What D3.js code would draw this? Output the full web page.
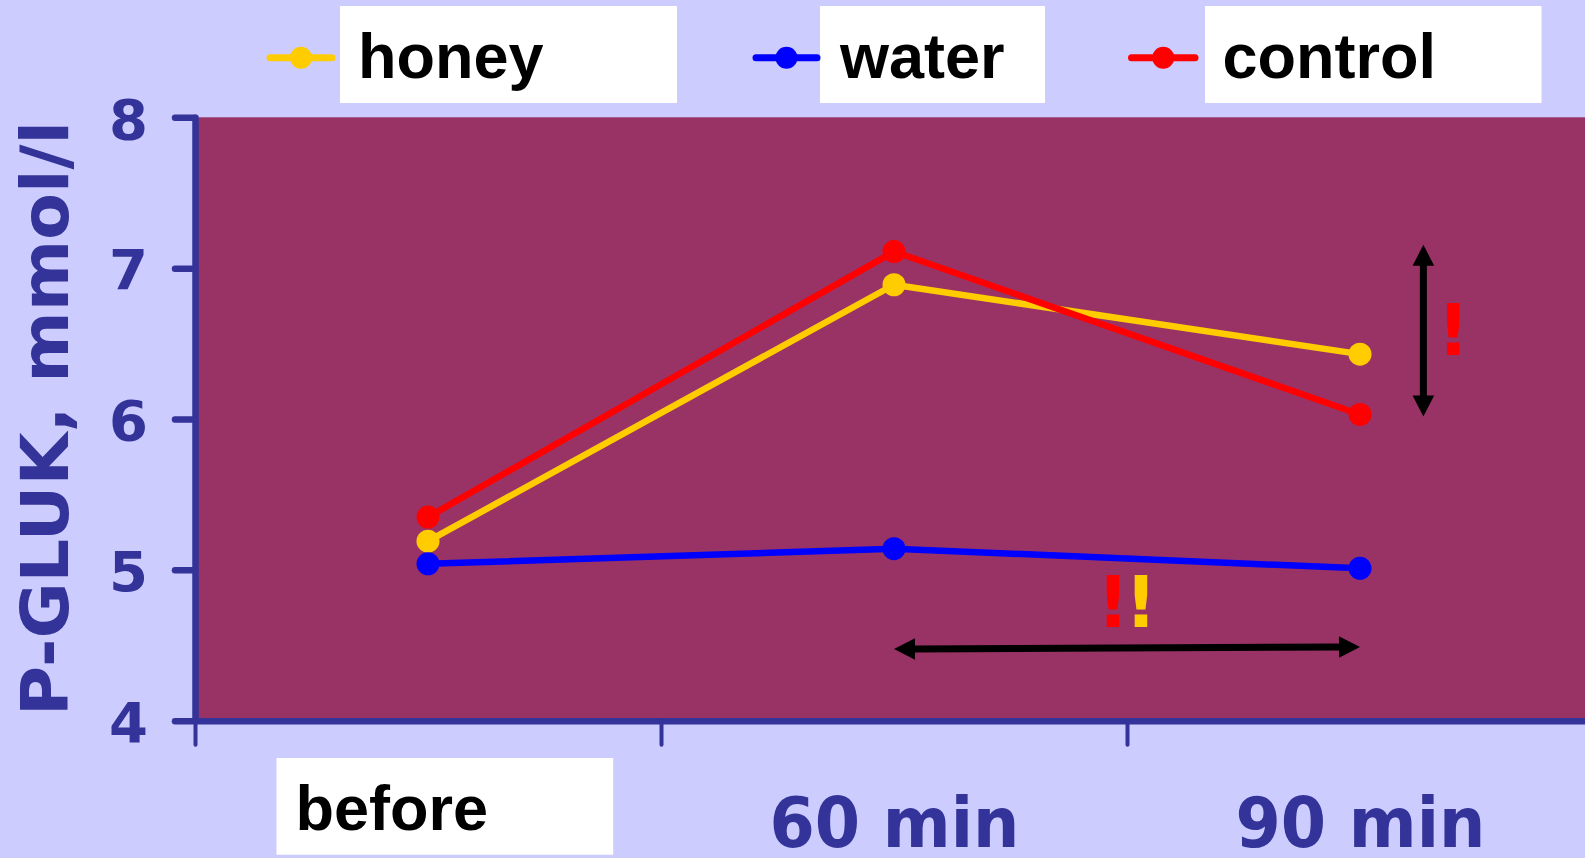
<!DOCTYPE html>
<html>
<head>
<meta charset="utf-8">
<script src="https://cdn.jsdelivr.net/npm/d3@7"></script>
<style>
  html, body { margin: 0; padding: 0; background: #CCCCFF; overflow: hidden; }
  svg { display: block; }
</style>
</head>
<body>
<svg id="chart" width="1585" height="858"></svg>
<script>
// Blood glucose after honey, water and control intake
const categories = ["before", "60 min", "90 min"];
const honey = [5.19, 6.89, 6.43];
const water = [5.04, 5.14, 5.01];
const control = [5.35, 7.11, 6.03];
const seriesNames = ["honey", "water", "control"];
const seriesColors = ["#FFCC00", "#0000FF", "#FF0000"];
const yTicks = [4, 5, 6, 7, 8];
const yLabel = "P-GLUK, mmol/l";

// Annotations: arrows (category index, value) and exclamation marks
const hArrow = [[1.0, 4.475], [2.0, 4.489]];
const vArrow = [[2.136, 7.155], [2.136, 6.017]];
const marks = [
  { text: "!", i: 2.2, v: 6.424, color: "#FF0000" },
  { text: "!", i: 1.47, v: 4.621, color: "#FF0000" },
  { text: "!", i: 1.53, v: 4.621, color: "#FFCC00" }
];

const AXIS = "#333399";
const PLOT_BG = "#993366";
const series = [honey, water, control];

const svg = d3.select("#chart");

// Categories sit at band centres; boundaries at half-indices
const xi = d3.scaleLinear().domain([-0.5, 2.5]).range([195, 1593]);
const y = d3.scaleLinear().domain([4, 8]).range([720.7, 117.3]);

// Plot background
svg.append("rect")
  .attr("x", xi(-0.5)).attr("y", y(8))
  .attr("width", xi(2.5) - xi(-0.5)).attr("height", y(4) - y(8))
  .attr("fill", PLOT_BG);

// Y axis
const yAxis = svg.append("g")
  .attr("transform", `translate(${xi(-0.5)},0)`)
  .call(d3.axisLeft(y).tickValues(yTicks).tickSize(20).tickSizeOuter(0).tickPadding(27).tickFormat(d3.format("d")));
yAxis.select(".domain").attr("stroke", AXIS).attr("stroke-width", 6.5).attr("stroke-linecap", "round");
yAxis.selectAll(".tick line").attr("stroke", AXIS).attr("stroke-width", 6.5).attr("stroke-linecap", "round");
yAxis.selectAll(".tick text")
  .attr("fill", AXIS)
  .attr("font-family", "DejaVu Sans")
  .attr("font-weight", "bold")
  .attr("font-size", 56)
  .attr("dy", "0.37em");

// X axis line and boundary ticks
const xAxis = svg.append("g")
  .attr("transform", `translate(0,${y(4)})`)
  .call(d3.axisBottom(xi).tickValues([-0.5, 0.5, 1.5]).tickSize(24).tickSizeOuter(0).tickFormat(""));
xAxis.select(".domain").attr("stroke", AXIS).attr("stroke-width", 6.5);
xAxis.selectAll(".tick line").attr("stroke", AXIS).attr("stroke-width", 4).attr("stroke-linecap", "round");

// Category labels
const xPoint = d3.scalePoint().domain(categories).range([xi(0), xi(2)]);
const xLabels = svg.append("g")
  .attr("transform", `translate(0,${y(4)})`)
  .call(d3.axisBottom(xPoint).tickSize(0));
xLabels.select(".domain").remove();
xLabels.selectAll(".tick").each(function (d, i) {
  const g = d3.select(this);
  const t = g.select("text");
  if (i === 0) {
    g.insert("rect", "text")
      .attr("x", -152).attr("y", 37.3)
      .attr("width", 336.7).attr("height", 96.7)
      .attr("fill", "#FFFFFF");
    t.attr("fill", "#000000")
      .attr("font-family", "Liberation Sans, Arial, sans-serif")
      .attr("font-weight", "bold")
      .attr("font-size", 63)
      .attr("text-anchor", "start")
      .attr("x", -133).attr("y", 109.3).attr("dy", 0);
  } else {
    t.attr("fill", AXIS)
      .attr("font-family", "DejaVu Sans")
      .attr("font-weight", "bold")
      .attr("font-size", 70)
      .attr("text-anchor", "middle")
      .attr("y", 126).attr("dy", 0)
      .attr("textLength", 250)
      .attr("lengthAdjust", "spacingAndGlyphs");
  }
});

// Y axis title
svg.append("text")
  .attr("transform", `translate(68.3,418.5) rotate(-90)`)
  .attr("text-anchor", "middle")
  .attr("fill", AXIS)
  .attr("font-family", "DejaVu Sans")
  .attr("font-weight", "bold")
  .attr("font-size", 66)
  .attr("textLength", 595)
  .attr("lengthAdjust", "spacingAndGlyphs")
  .text(yLabel);

// Series lines and markers
const line = d3.line().x((d, i) => xi(i)).y(d => y(d));
const seriesG = svg.append("g");
series.forEach((vals, s) => {
  seriesG.append("path")
    .datum(vals)
    .attr("d", line)
    .attr("fill", "none")
    .attr("stroke", seriesColors[s])
    .attr("stroke-width", 6.5)
    .attr("stroke-linejoin", "round");
});
series.forEach((vals, s) => {
  seriesG.selectAll(null)
    .data(vals)
    .join("circle")
    .attr("cx", (d, i) => xi(i))
    .attr("cy", d => y(d))
    .attr("r", 11.5)
    .attr("fill", seriesColors[s]);
});

// Double-headed arrows
function doubleArrow(p0, p1) {
  const x0 = xi(p0[0]), y0 = y(p0[1]), x1 = xi(p1[0]), y1 = y(p1[1]);
  const len = Math.hypot(x1 - x0, y1 - y0);
  const ux = (x1 - x0) / len, uy = (y1 - y0) / len;
  const head = 21, half = 10.8;
  const g = svg.append("g");
  g.append("line")
    .attr("x1", x0 + ux * (head - 1)).attr("y1", y0 + uy * (head - 1))
    .attr("x2", x1 - ux * (head - 1)).attr("y2", y1 - uy * (head - 1))
    .attr("stroke", "#000").attr("stroke-width", 7);
  const tri = (tx, ty, dx, dy) => {
    const bx = tx - dx * head, by = ty - dy * head;
    return `M${tx},${ty}L${bx - dy * half},${by + dx * half}L${bx + dy * half},${by - dx * half}Z`;
  };
  g.append("path").attr("d", tri(x1, y1, ux, uy)).attr("fill", "#000");
  g.append("path").attr("d", tri(x0, y0, -ux, -uy)).attr("fill", "#000");
}
doubleArrow(hArrow[0], hArrow[1]);
doubleArrow(vArrow[0], vArrow[1]);

// Exclamation marks
svg.append("g").selectAll("text")
  .data(marks)
  .join("text")
  .attr("x", d => xi(d.i))
  .attr("y", d => y(d.v))
  .attr("text-anchor", "middle")
  .attr("fill", d => d.color)
  .attr("font-family", "DejaVu Sans")
  .attr("font-weight", "bold")
  .attr("font-size", 71)
  .text(d => d.text);

// Legend
const legendBoxes = [
  { x: 340, w: 337, lx0: 270, lx1: 332, tx: 358 },
  { x: 820, w: 225, lx0: 756, lx1: 817, tx: 840 },
  { x: 1205, w: 336.5, lx0: 1131.5, lx1: 1195, tx: 1222.5 }
];
const legend = svg.append("g");
seriesNames.forEach((name, s) => {
  const b = legendBoxes[s];
  const g = legend.append("g");
  g.append("rect").attr("x", b.x).attr("y", 6).attr("width", b.w).attr("height", 97).attr("fill", "#FFFFFF");
  g.append("line")
    .attr("x1", b.lx0).attr("x2", b.lx1).attr("y1", 57.7).attr("y2", 57.7)
    .attr("stroke", seriesColors[s]).attr("stroke-width", 7).attr("stroke-linecap", "round");
  g.append("circle").attr("cx", (b.lx0 + b.lx1) / 2).attr("cy", 57.7).attr("r", 11).attr("fill", seriesColors[s]);
  g.append("text")
    .attr("x", b.tx).attr("y", 78.3)
    .attr("fill", "#000")
    .attr("font-family", "Liberation Sans, Arial, sans-serif")
    .attr("font-weight", "bold")
    .attr("font-size", 63)
    .text(name);
});
</script>
</body>
</html>
